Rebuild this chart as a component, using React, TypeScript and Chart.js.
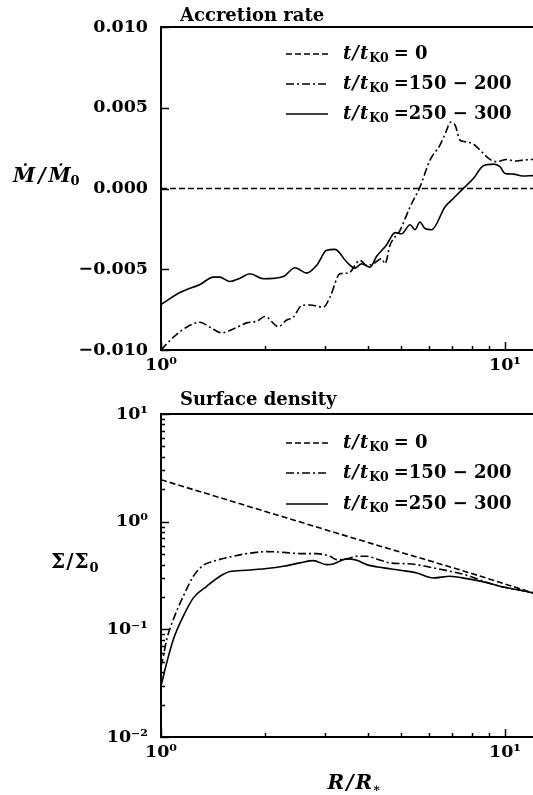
import React, { useEffect, useRef } from "react";
import { Chart, registerables } from "chart.js";

Chart.register(...registerables);

// ---------- data ----------
const R_MIN = 1;
const R_MAX = 12.06;

// Accretion rate, t/tK0 = 0
const accR_t0 = [1, 12.06];
const accV_t0 = [0, 0];
// Accretion rate, t/tK0 = 150-200
const accR_150 = [1, 1.086, 1.187, 1.298, 1.388, 1.501, 1.623, 1.774, 1.897, 2.006, 2.193, 2.319, 2.425, 2.564, 2.712, 2.964, 3.099, 3.314, 3.505, 3.789, 3.963, 4.142, 4.38, 4.48, 4.63, 4.953, 5.296, 5.66, 6.05, 6.47, 6.77, 6.92, 7.155, 7.4, 7.65, 8.09, 8.46, 9.04, 9.46, 10.11, 10.69, 11.3, 12.06];
const accV_150 = [-0.0100, -0.00921, -0.00859, -0.00828, -0.00859, -0.00894, -0.0087, -0.00832, -0.00822, -0.00793, -0.00855, -0.00814, -0.00797, -0.00725, -0.00721, -0.00735, -0.00673, -0.00528, -0.00524, -0.00445, -0.00476, -0.00466, -0.00435, -0.00466, -0.00352, -0.00259, -0.00114, 0.0001, 0.00176, 0.00269, 0.00362, 0.0041, 0.00393, 0.003, 0.0029, 0.00275, 0.00238, 0.0018, 0.00166, 0.0018, 0.0017, 0.00176, 0.0018];
// Accretion rate, t/tK0 = 250-300
const accR_250 = [1, 1.136, 1.298, 1.42, 1.48, 1.587, 1.697, 1.814, 1.984, 2.268, 2.452, 2.651, 2.834, 3.03, 3.205, 3.465, 3.664, 3.83, 4.052, 4.236, 4.53, 4.79, 5.01, 5.296, 5.475, 5.66, 5.853, 6.12, 6.69, 7.075, 7.48, 8.09, 8.65, 9.25, 9.67, 10, 10.57, 11.25, 12.06];
const accV_250 = [-0.00718, -0.00644, -0.00594, -0.00549, -0.00549, -0.00576, -0.00555, -0.00528, -0.00559, -0.00545, -0.00491, -0.00524, -0.00476, -0.00383, -0.00377, -0.00455, -0.00493, -0.00466, -0.00487, -0.0042, -0.00348, -0.00273, -0.0028, -0.00224, -0.00255, -0.00207, -0.00248, -0.00255, -0.00114, -0.00062, -0.0001, 0.00062, 0.00141, 0.00151, 0.00135, 0.00093, 0.00089, 0.00077, 0.0008];

// Surface density, t/tK0 = 0
const sigR_t0 = [1, 2, 4, 8, 12.06];
const sigV_t0 = [2.45, 1.25, 0.64, 0.33, 0.218];
// Surface density, t/tK0 = 150-200
const sigR_150 = [1, 1.016, 1.039, 1.086, 1.161, 1.242, 1.328, 1.42, 1.587, 1.774, 2.029, 2.268, 2.536, 2.834, 3.099, 3.241, 3.465, 3.706, 3.963, 4.236, 4.63, 5.064, 5.537, 6.19, 6.92, 7.74, 8.65, 9.67, 10.81, 12.06];
const sigV_150 = [0.045, 0.0564, 0.0805, 0.1234, 0.203, 0.311, 0.394, 0.429, 0.47, 0.505, 0.527, 0.519, 0.505, 0.505, 0.477, 0.444, 0.451, 0.477, 0.477, 0.451, 0.414, 0.408, 0.399, 0.372, 0.346, 0.318, 0.28, 0.251, 0.234, 0.218];
// Surface density, t/tK0 = 250-300
const sigR_250 = [1, 1.039, 1.086, 1.161, 1.242, 1.358, 1.484, 1.587, 1.774, 2.029, 2.268, 2.536, 2.772, 3.03, 3.17, 3.465, 3.706, 3.963, 4.43, 4.953, 5.537, 6.19, 6.92, 7.74, 8.65, 9.67, 10.81, 12.06];
const sigV_250 = [0.0297, 0.0489, 0.0805, 0.1324, 0.196, 0.251, 0.311, 0.344, 0.354, 0.367, 0.385, 0.414, 0.435, 0.399, 0.405, 0.451, 0.438, 0.399, 0.372, 0.354, 0.334, 0.3, 0.311, 0.296, 0.276, 0.251, 0.234, 0.218];

// ticks & labels
const xTickValues = [1, 10];
const xTickLabels = ["10\u2070", "10\u00b9"];
const xMinorTicks = [2, 3, 4, 5, 6, 7, 8, 9];
const accTickValues = [-0.01, -0.005, 0, 0.005, 0.01];
const accTickLabels = ["\u22120.010", "\u22120.005", "0.000", "0.005", "0.010"];
const sigTickValues = [0.01, 0.1, 1, 10];
const sigTickLabels = ["10\u207b\u00b2", "10\u207b\u00b9", "10\u2070", "10\u00b9"];
const legendValues = ["= 0", "=150 \u2212 200", "=250 \u2212 300"];
const titles = ["Accretion rate", "Surface density"];

// ---------- styling ----------
const FF = '"DejaVu Serif", serif';
const B = (px: number) => `bold ${px}px ${FF}`;
const BI = (px: number) => `italic bold ${px}px ${FF}`;
const DASHES = [[6, 3], [8, 3, 2, 3], []];
const TICK_FONT = { family: FF, size: 17.5, weight: "bold" as const };

type Seg = { t: string; f: string; dy?: number; gap?: number };

function drawSegs(ctx: CanvasRenderingContext2D, x: number, y: number, segs: Seg[], center = false) {
  let total = 0;
  for (const s of segs) {
    ctx.font = s.f;
    total += (s.gap || 0) + ctx.measureText(s.t).width;
  }
  let cx = center ? x - total / 2 : x;
  for (const s of segs) {
    ctx.font = s.f;
    cx += s.gap || 0;
    ctx.fillText(s.t, cx, y + (s.dy || 0));
    cx += ctx.measureText(s.t).width;
  }
}

function pts(xs: number[], ys: number[]) {
  return xs.map((x, i) => ({ x, y: ys[i] }));
}

function ds(xs: number[], ys: number[], k: number) {
  return {
    data: pts(xs, ys),
    borderColor: "#000",
    borderWidth: 1.6,
    borderDash: DASHES[k],
    pointRadius: 0,
    fill: false,
    cubicInterpolationMode: "monotone" as const,
  };
}

function labelFor(values: number[], labels: string[]) {
  return (v: any) => {
    const n = Number(v);
    for (let i = 0; i < values.length; i++) {
      const ref = values[i];
      const tol = Math.max(Math.abs(ref) * 1e-6, 1e-9);
      if (Math.abs(n - ref) < tol) return labels[i];
    }
    return "";
  };
}

type Deco = {
  id: string;
  title: string;
  titleY: number;
  legendY: number[];
  yMajor: number[];
  yMinor: number[];
  ylabel: (ctx: CanvasRenderingContext2D) => void;
  xlabel?: (ctx: CanvasRenderingContext2D) => void;
};

function makeDeco(p: Deco) {
  return {
    id: "deco" + p.id,
    afterDraw(chart: any) {
      const ctx: CanvasRenderingContext2D = chart.ctx;
      const a = chart.chartArea;
      const xs = chart.scales.x;
      const ys = chart.scales.y;
      ctx.save();
      ctx.strokeStyle = "#000";
      ctx.fillStyle = "#000";
      ctx.setLineDash([]);
      // top frame line
      ctx.lineWidth = 2;
      ctx.beginPath();
      ctx.moveTo(a.left - 1, a.top);
      ctx.lineTo(a.right, a.top);
      ctx.stroke();
      // inward ticks
      ctx.lineWidth = 1.5;
      const line = (x1: number, y1: number, x2: number, y2: number) => {
        ctx.beginPath();
        ctx.moveTo(x1, y1);
        ctx.lineTo(x2, y2);
        ctx.stroke();
      };
      for (const v of xMinorTicks) {
        const x = Math.round(xs.getPixelForValue(v)) + 0.5;
        line(x, a.bottom, x, a.bottom - 4);
      }
      for (const v of xTickValues) {
        const x = Math.round(xs.getPixelForValue(v)) + 0.5;
        line(x, a.bottom, x, a.bottom - 8);
      }
      for (const v of p.yMinor) {
        const y = Math.round(ys.getPixelForValue(v)) + 0.5;
        line(a.left, y, a.left + 4, y);
      }
      for (const v of p.yMajor) {
        const y = Math.round(ys.getPixelForValue(v)) + 0.5;
        line(a.left, y, a.left + 8, y);
      }
      // title
      ctx.textAlign = "left";
      ctx.textBaseline = "alphabetic";
      ctx.font = B(18);
      ctx.fillText(p.title, 180, p.titleY);
      // legend
      for (let k = 0; k < 3; k++) {
        const y = p.legendY[k];
        ctx.lineWidth = 1.6;
        ctx.setLineDash(DASHES[k]);
        line(286, y, 328, y);
        ctx.setLineDash([]);
        drawSegs(ctx, 343, y + 5, [
          { t: "t", f: BI(18) },
          { t: "/", f: BI(18), gap: 1 },
          { t: "t", f: BI(18), gap: 1 },
          { t: "K0", f: B(12.5), dy: 3, gap: 1 },
          { t: legendValues[k], f: B(18), gap: 5 },
        ]);
      }
      p.ylabel(ctx);
      if (p.xlabel) p.xlabel(ctx);
      ctx.restore();
    },
  };
}

function baseScales(xHeight: number) {
  return {
    x: {
      type: "logarithmic" as const,
      min: R_MIN,
      max: R_MAX,
      grid: { display: false, drawTicks: false },
      border: { display: true, color: "#000", width: 2 },
      ticks: {
        autoSkip: false,
        maxRotation: 0,
        minRotation: 0,
        padding: 5,
        color: "#000",
        font: TICK_FONT,
        callback: labelFor(xTickValues, xTickLabels),
      },
      afterFit: (s: any) => {
        s.height = xHeight;
        s.paddingLeft = 0;
        s.paddingRight = 0;
      },
    },
  };
}

function topConfig(): any {
  const yMinor: number[] = [];
  return {
    type: "line",
    data: {
      datasets: [ds(accR_t0, accV_t0, 0), ds(accR_150, accV_150, 1), ds(accR_250, accV_250, 2)],
    },
    options: {
      animation: false,
      responsive: false,
      devicePixelRatio: 1,
      layout: { padding: { top: 27, left: 0, right: 0, bottom: 0 } },
      plugins: { legend: { display: false }, tooltip: { enabled: false }, title: { display: false } },
      scales: {
        ...baseScales(30),
        y: {
          type: "linear",
          min: -0.01,
          max: 0.01,
          grid: { display: false, drawTicks: false },
          border: { display: true, color: "#000", width: 2 },
          ticks: {
            stepSize: 0.005,
            autoSkip: false,
            padding: 13,
            color: "#000",
            font: TICK_FONT,
            callback: labelFor(accTickValues, accTickLabels),
          },
          afterFit: (s: any) => {
            s.width = 161;
          },
        },
      },
    },
    plugins: [
      makeDeco({
        id: "top",
        title: titles[0],
        titleY: 21,
        legendY: [54, 84, 114],
        yMajor: accTickValues,
        yMinor,
        ylabel: (ctx) => {
          drawSegs(ctx, 13, 182, [
            { t: "\u1e40", f: BI(20) },
            { t: "/", f: BI(20), gap: 3 },
            { t: "\u1e40", f: BI(20), gap: 3 },
            { t: "0", f: B(13), dy: 3, gap: 0 },
          ]);
        },
      }),
    ],
  };
}

function botConfig(): any {
  const yMinor: number[] = [];
  for (let d = 0.01; d < 10; d *= 10) {
    for (let m = 2; m <= 9; m++) yMinor.push(Number((m * d).toPrecision(6)));
  }
  return {
    type: "line",
    data: {
      datasets: [ds(sigR_t0, sigV_t0, 0), ds(sigR_150, sigV_150, 1), ds(sigR_250, sigV_250, 2)],
    },
    options: {
      animation: false,
      responsive: false,
      devicePixelRatio: 1,
      layout: { padding: { top: 34, left: 0, right: 0, bottom: 0 } },
      plugins: { legend: { display: false }, tooltip: { enabled: false }, title: { display: false } },
      scales: {
        ...baseScales(58),
        y: {
          type: "logarithmic",
          min: 0.01,
          max: 10,
          grid: { display: false, drawTicks: false },
          border: { display: true, color: "#000", width: 2 },
          ticks: {
            autoSkip: false,
            padding: 13,
            color: "#000",
            font: TICK_FONT,
            callback: labelFor(sigTickValues, sigTickLabels),
          },
          afterFit: (s: any) => {
            s.width = 161;
          },
        },
      },
    },
    plugins: [
      makeDeco({
        id: "bot",
        title: titles[1],
        titleY: 25,
        legendY: [63, 93, 124],
        yMajor: sigTickValues,
        yMinor,
        ylabel: (ctx) => {
          drawSegs(ctx, 51, 188, [
            { t: "\u03a3", f: B(20) },
            { t: "/", f: B(20), gap: 1 },
            { t: "\u03a3", f: B(20), gap: 1 },
            { t: "0", f: B(13), dy: 4, gap: 1 },
          ]);
        },
        xlabel: (ctx) => {
          drawSegs(
            ctx,
            354,
            409,
            [
              { t: "R", f: BI(20) },
              { t: "/", f: BI(20), gap: 2 },
              { t: "R", f: BI(20), gap: 2 },
              { t: "\u2217", f: B(12), dy: 3, gap: 0 },
            ],
            true
          );
        },
      }),
    ],
  };
}

export default function App() {
  const topRef = useRef<HTMLCanvasElement>(null);
  const botRef = useRef<HTMLCanvasElement>(null);
  useEffect(() => {
    const c1 = new Chart(topRef.current as HTMLCanvasElement, topConfig());
    const c2 = new Chart(botRef.current as HTMLCanvasElement, botConfig());
    return () => {
      c1.destroy();
      c2.destroy();
    };
  }, []);
  return (
    <div style={{ position: "absolute", left: 0, top: 0, width: 533, height: 795, background: "#fff", overflow: "hidden" }}>
      <canvas ref={topRef} width={533} height={380} style={{ position: "absolute", left: 0, top: 0, display: "block" }} />
      <canvas ref={botRef} width={533} height={415} style={{ position: "absolute", left: 0, top: 380, display: "block" }} />
    </div>
  );
}
